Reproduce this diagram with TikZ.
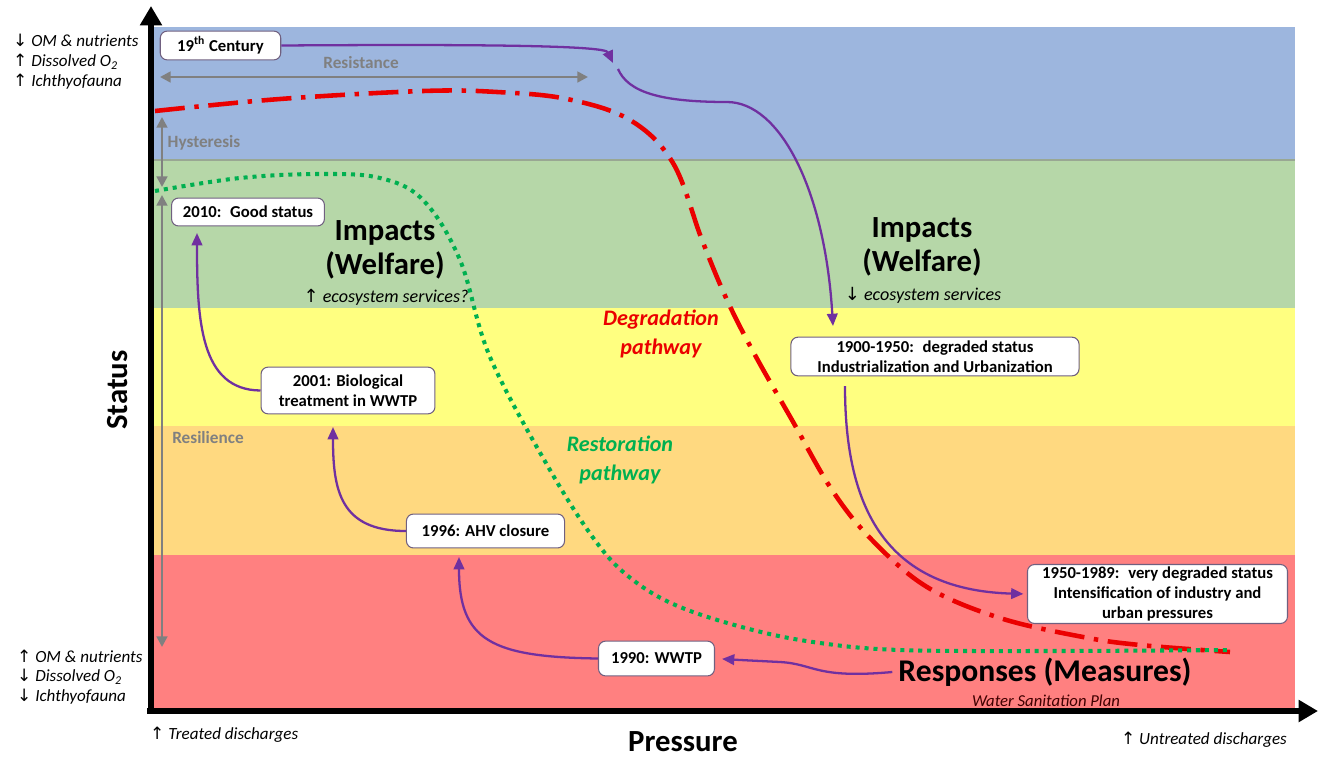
\documentclass[tikz,border=0pt]{standalone}
\usepackage{fontspec}
\setmainfont{Carlito}
\newfontfamily\arrowglyphs{DejaVu Sans}
\usetikzlibrary{arrows.meta}

\definecolor{bandblue}{RGB}{157,182,222}
\definecolor{bandgreen}{RGB}{182,215,168}
\definecolor{bandyellow}{RGB}{255,255,128}
\definecolor{bandorange}{RGB}{255,217,128}
\definecolor{bandred}{RGB}{255,128,128}
\definecolor{boxline}{RGB}{112,96,128}
\definecolor{flowpurple}{RGB}{112,48,160}
\definecolor{pathred}{RGB}{235,0,0}
\definecolor{pathgreen}{RGB}{0,176,80}
\definecolor{measgray}{RGB}{128,128,128}

\newcommand{\upa}{{\arrowglyphs\char"2191}}
\newcommand{\dna}{{\arrowglyphs\char"2193}}

\tikzset{event/.style={rectangle, rounded corners=4pt, draw=boxline, line width=0.6pt,
   fill=white, align=center, inner sep=1.5pt, font=\bfseries\fontsize{9.5}{11.2}\selectfont}}
\tikzset{heading/.style={align=center, font=\bfseries\fontsize{17.5}{19.3}\selectfont}}
\tikzset{note/.style={align=left, font=\itshape\fontsize{9.7}{11.3}\selectfont}}
\tikzset{measure/.style={text=measgray, font=\bfseries\fontsize{9.8}{11}\selectfont}}
\tikzset{pathlabel/.style={align=center, font=\bfseries\itshape\fontsize{12.6}{16}\selectfont}}
\tikzset{span/.style={draw=measgray, line width=1.6pt, >={Triangle[length=6pt,width=6pt]}, <->}}
\tikzset{flow/.style={draw=flowpurple, line width=1.3pt, -{Triangle[length=7pt,width=6pt]}}}
\tikzset{axis/.style={line width=3.8pt, -{Triangle[length=11pt,width=12pt]}}}

\begin{document}
\begin{tikzpicture}[x=0.02cm, y=-0.02cm]
\useasboundingbox (0,0) rectangle (1320,758);

% status bands
\fill[bandblue]   (153,27)  rectangle (1295,160);
\fill[bandgreen]  (153,160) rectangle (1295,308);
\fill[bandyellow] (153,308) rectangle (1295,426);
\fill[bandorange] (153,426) rectangle (1295,555);
\fill[bandred]    (153,555) rectangle (1295,708);
\draw[bandgreen!60!black!70, line width=0.6pt] (153,160) -- (1295,160);

% axes
\coordinate (origin) at (151,711);
\coordinate (xstart) at (147,711);
\coordinate (ytop) at (151,6);
\coordinate (xend) at (1318,711);
\draw[axis] (origin) -- (ytop);
\draw[axis] (xstart) -- (xend);
\node[heading, rotate=90] (status) at (118,390) {Status};
\node[heading, inner sep=0.5pt] (pressure) at (683,742) {Pressure};

% resistance, hysteresis, resilience
\coordinate (rs0) at (160,77);
\coordinate (rs1) at (588,77);
\coordinate (hy0) at (162,117);
\coordinate (hy1) at (162,187);
\coordinate (rl0) at (162,195);
\coordinate (rl1) at (162,647);
\draw[span] (rs0) -- (rs1);
\draw[span] (hy0) -- (hy1);
\draw[span] (rl0) -- (rl1);
\node[measure] (resistance) at (361,63) {Resistance};
\node[measure] (hysteresis) at (204,143) {Hysteresis};
\node[measure] (resilience) at (208,438) {Resilience};

% pathways
\draw[pathred, line width=2.6pt, dash pattern=on 17pt off 5.5pt on 2.5pt off 5.5pt]
  plot[smooth, tension=0.6] coordinates {(155,111) (280,99) (423,91) (497,92) (567,99)
  (630,120) (673,163) (702,240) (727,300) (755,355) (792,420) (832,490) (872,540)
  (927,587) (1000,618) (1083,637) (1140,645) (1230,652)};
\draw[pathgreen, line width=2.3pt, dash pattern=on 2.3pt off 2.8pt]
  plot[smooth, tension=0.6] coordinates {(155,191) (240,178) (320,174) (380,178)
  (423,200) (460,260) (490,357) (550,470) (597,543) (633,580) (680,607) (753,630)
  (820,643) (900,650) (1050,651) (1230,650)};
\node[pathlabel, text=pathred] (degpath) at (661,334) {Degradation\\pathway};
\node[pathlabel, text=pathgreen] (respath) at (620,460) {Restoration\\pathway};

% state and pressure notes
\node[note, anchor=west] (goodstate) at (7,62) {\dna{} OM \& nutrients\\\upa{} Dissolved O\textsubscript{2}\\\upa{} Ichthyofauna};
\node[note, anchor=west] (badstate) at (11,677) {\upa{} OM \& nutrients\\\dna{} Dissolved O\textsubscript{2}\\\dna{} Ichthyofauna};
\node[note, anchor=west] (treated) at (144,735) {\upa{} Treated discharges};
\node[note, anchor=east] (untreated) at (1293,740) {\upa{} Untreated discharges};

% impacts and responses
\node[heading] (impleft) at (385,250) {Impacts\\(Welfare)};
\node[note, font=\itshape\fontsize{10.3}{12}\selectfont] (esleft) at (386,297) {\upa{} ecosystem services?};
\node[heading] (impright) at (922,247) {Impacts\\(Welfare)};
\node[note, font=\itshape\fontsize{10.3}{12}\selectfont] (esright) at (923,295) {\dna{} ecosystem services};
\node[heading, font=\bfseries\fontsize{18}{20}\selectfont] (resp) at (1045,672) {Responses (Measures)};
\node[note, font=\itshape\fontsize{9.5}{11}\selectfont, text=black!75!red] (wsp) at (1046,701) {Water Sanitation Plan};

% events
\node[event, minimum width=68.6pt, minimum height=16.4pt] (century) at (220.5,45.5) {19\textsuperscript{th} Century};
\node[event, minimum width=164pt, minimum height=22pt] (deg1) at (935,356.5) {1900-1950:~ degraded status\\Industrialization and Urbanization};
\node[event, minimum width=148pt, minimum height=33pt] (deg2) at (1157.5,594) {1950-1989:~ very degraded status\\Intensification of industry and\\urban pressures};
\node[event, minimum width=66pt, minimum height=19.8pt] (wwtp) at (656.5,658.5) {1990: WWTP};
\node[event, minimum width=90pt, minimum height=19.3pt] (ahv) at (485.5,531) {1996: AHV closure};
\node[event, minimum width=99pt, minimum height=26.6pt] (bio) at (348,390.5) {2001: Biological\\treatment in WWTP};
\node[event, minimum width=87pt, minimum height=15.9pt] (good) at (248,212) {2010:~ Good status};

% event flow
\coordinate (hook) at (613,63);
\coordinate (hookout) at (618,69);
\coordinate (deg1in) at (833,326);
\coordinate (deg1out) at (845,386);
\coordinate (ahvin) at (459,557);
\coordinate (bioin) at (333,427);
\coordinate (goodin) at (197,233);
\draw[flow] (century.east) .. controls (500,44) and (605,46) .. (hook);
\draw[flow] (hookout) .. controls (628,92) and (660,102) .. (727,102)
  .. controls (780,102) and (825,190) .. (deg1in);
\draw[flow, shorten >=2pt] (deg1out) .. controls (845,500) and (880,590) .. (deg2.west);
\draw[flow, shorten >=4pt] (resp.west) .. controls (815,679) and (815,664) .. (780,662)
  .. controls (760,661) and (740,660) .. (wwtp.east);
\draw[flow] (wwtp.west) .. controls (490,657) and (459,640) .. (ahvin);
\draw[flow] (ahv.west) .. controls (340,531) and (333,490) .. (bioin);
\draw[flow] (bio.west) .. controls (200,390) and (197,320) .. (goodin);

\end{tikzpicture}
\end{document}
